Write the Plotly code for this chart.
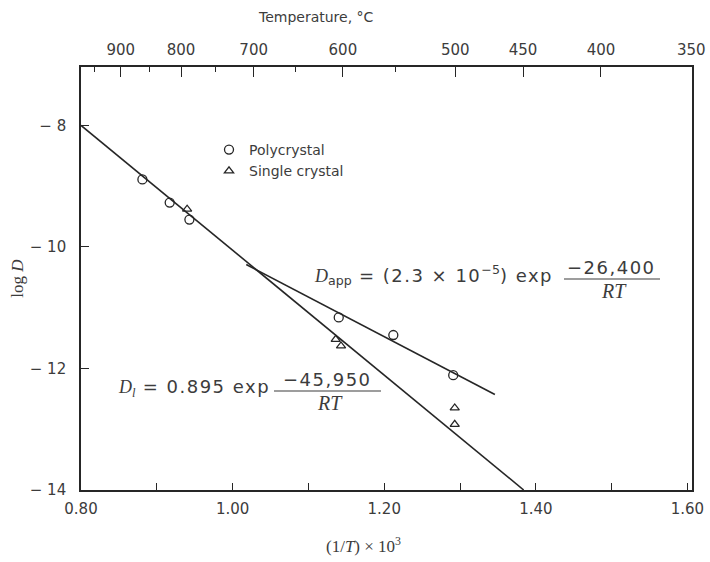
import plotly.graph_objects as go

# ---- data ----
poly_x = [0.881, 0.917, 0.943, 1.140, 1.212, 1.291]
poly_y = [-8.89, -9.27, -9.55, -11.16, -11.45, -12.11]
single_x = [0.940, 1.136, 1.143, 1.293, 1.293]
single_y = [-9.38, -11.52, -11.63, -12.65, -12.92]

di_line_x = [0.800, 1.384]
di_line_y = [-8.00, -14.00]
app_line_x = [1.018, 1.346]
app_line_y = [-10.29, -12.43]

x_tick_vals = [0.80, 1.00, 1.20, 1.40, 1.60]
x_tick_text = ["0.80", "1.00", "1.20", "1.40", "1.60"]
x_minor_vals = [0.90, 1.10, 1.30, 1.50]
y_tick_vals = [-8, -10, -12, -14]
y_tick_text = ["\u2212 8", "\u2212 10", "\u2212 12", "\u2212 14"]
temp_major = [900, 800, 700, 600, 500, 450, 400, 350]
temp_minor = [950, 850, 750, 650, 550]

INK = "#262626"
TXT = "#3c3c3c"
SANS = "DejaVu Sans"
SERIF = "Liberation Serif"

# body margin is removed by the post_script below, so figure px == window px
OFF = 0
W, H = 710, 562
# plot box in window pixels: left 81, right 692, top 67, bottom 490
ML, MR, MT, MB = 81, 710 - 692, 67, 562 - 490
PW, PH = W - ML - MR, H - MT - MB
X0, X1 = 0.8, 1.606
Y0, Y1 = -14.0, -7.04


def px2x(px):  # window px -> data x
    return X0 + (px - OFF - ML) / PW * (X1 - X0)


def py2y(py):  # window px -> data y
    return Y0 + (H - MB - (py - OFF)) / PH * (Y1 - Y0)


def px2p(px):  # window px -> paper x
    return (px - OFF - ML) / PW


def py2p(py):  # window px -> paper y
    return (H - MB - (py - OFF)) / PH


def inv_T(tc):
    return 1000.0 / (tc + 273.0)


fig = go.Figure()
fig.add_trace(go.Scatter(x=di_line_x, y=di_line_y, mode="lines",
                         line=dict(color=INK, width=1.6), showlegend=False, hoverinfo="skip"))
fig.add_trace(go.Scatter(x=app_line_x, y=app_line_y, mode="lines",
                         line=dict(color=INK, width=1.6), showlegend=False, hoverinfo="skip"))
fig.add_trace(go.Scatter(x=poly_x, y=poly_y, mode="markers", name="Polycrystal",
                         marker=dict(symbol="circle-open", size=9, color=INK, line=dict(width=1.3))))
fig.add_trace(go.Scatter(x=single_x, y=single_y, mode="markers", name="Single crystal",
                         marker=dict(symbol="triangle-up-open", size=8, color=INK, line=dict(width=1.3))))
fig.add_trace(go.Scatter(x=[], y=[], xaxis="x2", showlegend=False, hoverinfo="skip"))

axis_common = dict(showgrid=False, zeroline=False, showline=True, linecolor=INK, linewidth=1.6,
                   ticks="inside", tickcolor=INK, tickwidth=1.2, automargin=False,
                   tickfont=dict(family=SANS, size=15, color=TXT))

fig.update_layout(
    width=W, height=H,
    margin=dict(l=ML, r=MR, t=MT, b=MB),
    paper_bgcolor="white", plot_bgcolor="white",
    xaxis=dict(range=[X0, X1], tickmode="array", tickvals=x_tick_vals, ticktext=x_tick_text,
               ticklen=7, ticklabelstandoff=4,
               minor=dict(tickmode="array", tickvals=x_minor_vals, ticks="inside", ticklen=7,
                          tickcolor=INK, tickwidth=1.2),
               **axis_common),
    xaxis2=dict(range=[X0, X1], overlaying="x", side="top", tickmode="array",
                tickvals=[inv_T(t) for t in temp_major], ticktext=[str(t) for t in temp_major],
                ticklen=10, ticklabelstandoff=4,
                minor=dict(tickmode="array", tickvals=[inv_T(t) for t in temp_minor], ticks="inside",
                           ticklen=5, tickcolor=INK, tickwidth=1.2),
                **axis_common),
    yaxis=dict(range=[Y0, Y1], tickmode="array", tickvals=y_tick_vals, ticktext=y_tick_text,
               ticklen=8, ticklabelstandoff=10, mirror=True,
               title=dict(text="log <i>D</i>", font=dict(family=SERIF, size=17, color=TXT), standoff=2),
               **axis_common),
    legend=dict(x=px2p(209), y=py2p(134),
                xanchor="left", yanchor="top", bgcolor="rgba(0,0,0,0)",
                font=dict(family=SANS, size=14, color=TXT), tracegroupgap=0),
    showlegend=True,
)

SP = "letter-spacing:1.5px"
ann_font = dict(family=SANS, size=18, color=TXT)
serif_font = dict(family=SERIF, size=20, color=TXT)
annotations = [
    # axis titles
    dict(text="Temperature, \u00b0C", xref="paper", yref="paper",
         x=px2p(316), y=py2p(17), xanchor="center", yanchor="middle",
         showarrow=False, font=dict(family=SANS, size=14, color=TXT)),
    dict(text="(1/<i>T</i>) \u00d7 10<sup>3</sup>", xref="paper", yref="paper",
         x=px2p(363), y=py2p(545), xanchor="center", yanchor="middle",
         showarrow=False, font=dict(family=SERIF, size=17, color=TXT)),
    # D_app equation
    dict(text=f"<span style='font-family:Liberation Serif'><i>D</i></span><sub>app</sub>"
              f"<span style='{SP}'> = (2.3 \u00d7 10</span><sup>\u22125</sup><span style='{SP}'>) exp</span>",
         x=px2x(555), y=py2y(275), xanchor="right", yanchor="middle", showarrow=False, font=ann_font),
    dict(text=f"<span style='{SP}'>\u221226,400</span>", x=px2x(611), y=py2y(267),
         xanchor="center", yanchor="middle", showarrow=False, font=ann_font),
    dict(text="<i>RT</i>", x=px2x(614), y=py2y(291), xanchor="center", yanchor="middle",
         showarrow=False, font=serif_font),
    # D_l equation
    dict(text=f"<span style='font-family:Liberation Serif'><i>D</i><sub><i>l</i></sub></span>"
              f"<span style='{SP}'> = 0.895 exp</span>",
         x=px2x(272), y=py2y(388), xanchor="right", yanchor="middle", showarrow=False, font=ann_font),
    dict(text=f"<span style='{SP}'>\u221245,950</span>", x=px2x(327), y=py2y(379),
         xanchor="center", yanchor="middle", showarrow=False, font=ann_font),
    dict(text="<i>RT</i>", x=px2x(330), y=py2y(403), xanchor="center", yanchor="middle",
         showarrow=False, font=serif_font),
]
fig.update_layout(annotations=annotations)

fig.add_shape(type="line", x0=px2x(564), x1=px2x(660), y0=py2y(279), y1=py2y(279),
              line=dict(color=TXT, width=1.2))
fig.add_shape(type="line", x0=px2x(274), x1=px2x(381), y0=py2y(391), y1=py2y(391),
              line=dict(color=TXT, width=1.2))

fig.write_html("out.html", config={"displayModeBar": False},
               post_script="document.body.style.margin='0';document.body.style.overflow='hidden';")
